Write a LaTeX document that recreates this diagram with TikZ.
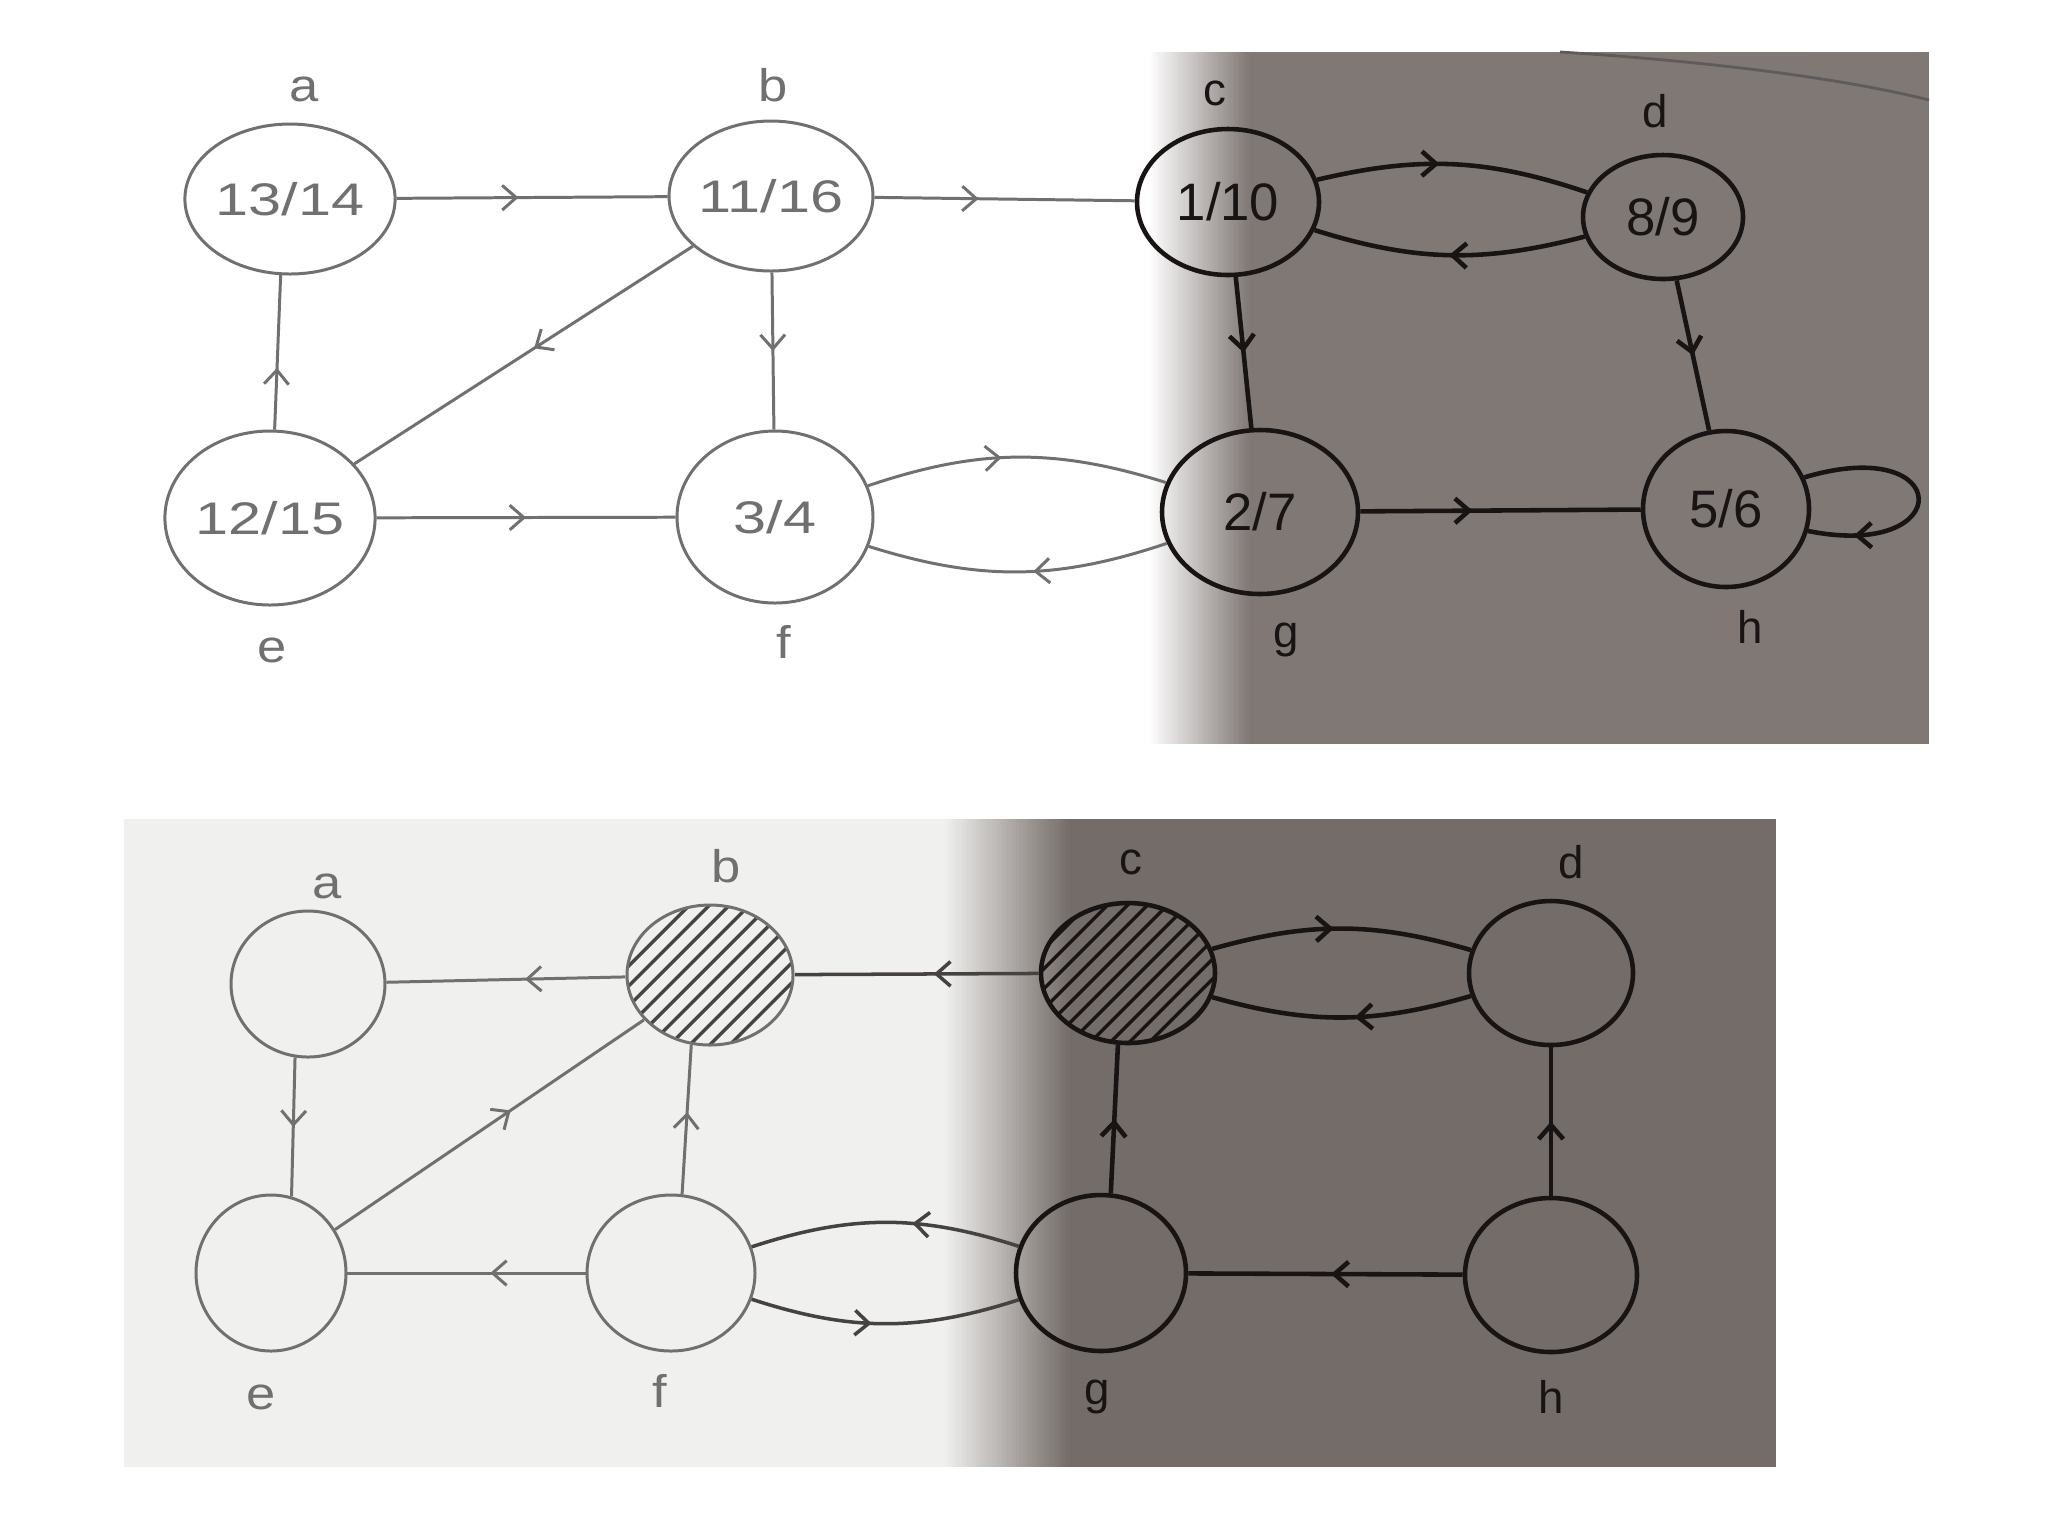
\documentclass[tikz,border=0pt]{standalone}
\usepackage{fontspec}
\setmainfont{Liberation Sans}
\usetikzlibrary{shapes.geometric,arrows.meta,decorations.markings,patterns.meta}

\definecolor{lgray}{RGB}{112,112,112}
\definecolor{mgray}{RGB}{70,66,64}
\definecolor{dgray}{RGB}{24,20,20}
\definecolor{shadeA}{RGB}{128,120,117}
\definecolor{shadeB}{RGB}{116,108,104}
\definecolor{paper}{RGB}{240,240,238}
\newcommand\wtxt[1]{\scalebox{1.3}[1]{#1}}
\newcommand\wlab[1]{\scalebox{1.15}[1]{#1}}

\begin{document}
\begin{tikzpicture}[x=0.1mm,y=0.1mm,
  gn/.style n args={2}{ellipse, minimum width=#1mm, minimum height=#2mm, inner sep=0pt},
  lt/.style={draw=lgray, text=lgray, line width=0.85pt, font=\fontsize{13}{15}\selectfont},
  dk/.style={draw=dgray, text=dgray, line width=1.3pt, font=\fontsize{15}{17}\selectfont},
  llab/.style={text=lgray, font=\fontsize{13}{15}\selectfont},
  dlab/.style={text=dgray, font=\fontsize{13}{15}\selectfont},
  midarr/.style={postaction={decorate,decoration={markings,mark=at position #1 with {\arrow{Straight Barb[length=4pt,width=7pt]}}}}},
  midarr/.default=0.5,
  ledge/.style={draw=lgray, line width=0.85pt},
  medge/.style={draw=mgray, line width=1pt},
  dedge/.style={draw=dgray, line width=1.3pt},
  hatch/.style={pattern={Lines[angle=45,distance=4pt,line width=1pt]}, pattern color=#1}
]
\useasboundingbox (0,0) rectangle (2048,-1536);

% ---------- backgrounds ----------
\fill[white] (0,0) rectangle (2048,-1536);
\fill[shadeA] (1245,-52) rectangle (1929,-744);
\foreach \i in {0,...,39} {
  \pgfmathsetmacro\p{\i*2.5+1.25}
  \fill[shadeA!\p!white] ({1149+\i*2.5},-52) rectangle ({1149+\i*2.5+3.2},-744);
}
\draw[dgray!70, line width=0.8pt] (1560,-52) .. controls (1720,-62) and (1850,-80) .. (1929,-100);

\fill[paper] (124,-819) rectangle (1776,-1467);
\fill[shadeB] (1068,-819) rectangle (1776,-1467);
\foreach \i in {0,...,39} {
  \pgfmathsetmacro\p{\i*2.5+1.25}
  \fill[shadeB!\p!paper] ({945+\i*3.1},-819) rectangle ({945+\i*3.1+3.8},-1467);
}

% ---------- top graph ----------
\node[gn={19.6}{15}, lt] (a) at (290,-199) {\wtxt{13/14}};
\node[gn={18.8}{15}, lt] (b) at (771,-196) {\wtxt{11/16}};
\node[gn={18.2}{14.6}, dk] (c) at (1228,-202) {1/10};
\node[gn={16}{12.4}, dk] (d) at (1663,-217) {8/9};
\node[gn={20.6}{17.4}, lt] (e) at (270,-518) {\wtxt{12/15}};
\node[gn={19.6}{17.2}, lt] (f) at (775,-517) {\wtxt{3/4}};
\node[gn={19.6}{16.4}, dk] (g) at (1260,-512) {2/7};
\node[gn={16.6}{15.6}, dk] (h) at (1726,-509) {5/6};

\node[llab] (la) at (304,-89) {\wlab{a}};
\node[llab] (lb) at (773,-85) {\wlab{b}};
\node[dlab] (lc) at (1215,-93) {c};
\node[dlab] (ld) at (1655,-111) {d};
\node[llab] (le) at (272,-650) {\wlab{e}};
\node[llab] (lf) at (784,-642) {\wlab{f}};
\node[dlab] (lg) at (1286,-640) {g};
\node[dlab] (lh) at (1750,-627) {h};

\draw[ledge, midarr=0.45] (a) -- (b);
\draw[ledge, midarr=0.4] (b) -- (c);
\draw[ledge, midarr=0.4] (e.87) -- (a.263);
\draw[ledge, midarr=0.47] (b) -- (e);
\draw[ledge, midarr=0.5] (b) -- (f);
\draw[ledge, midarr=0.5] (e) -- (f);
\draw[ledge, midarr=0.45] (f) to[bend left=18] (g);
\draw[ledge, midarr=0.45] (g) to[bend left=18] (f);
\draw[dedge, midarr=0.45] (c) to[bend left=16] (d);
\draw[dedge, midarr=0.5] (d) to[bend left=16] (c);
\draw[dedge, midarr=0.5] (c) -- (g);
\draw[dedge, midarr=0.5] (d) -- (h);
\draw[dedge, midarr=0.4] (g) -- (h);
\draw[dedge, midarr=0.82] (h.22) .. controls +(150,45) and +(150,-30) .. (h.-15);

% ---------- bottom graph ----------
\node[gn={15.4}{14.6}, lt] (a2) at (308,-984) {};
\node[gn={16.6}{14}, lt, hatch=dgray!80] (b2) at (710,-975) {};
\node[gn={17.4}{14}, dk, hatch=dgray] (c2) at (1128,-973) {};
\node[gn={16.4}{14.4}, dk] (d2) at (1551,-973) {};
\node[gn={15}{15.6}, lt] (e2) at (271,-1273) {};
\node[gn={16.8}{15.6}, lt] (f2) at (671,-1273) {};
\node[gn={17}{15.6}, dk] (g2) at (1101,-1273) {};
\node[gn={17.2}{15.4}, dk] (h2) at (1551,-1275) {};

\node[llab] (la2) at (327,-886) {\wlab{a}};
\node[llab] (lb2) at (726,-866) {\wlab{b}};
\node[dlab] (lc2) at (1131,-862) {c};
\node[dlab] (ld2) at (1571,-862) {d};
\node[llab] (le2) at (261,-1397) {\wlab{e}};
\node[llab] (lf2) at (660,-1391) {\wlab{f}};
\node[dlab] (lg2) at (1097,-1397) {g};
\node[dlab] (lh2) at (1551,-1397) {h};

\draw[ledge, midarr=0.42] (b2) -- (a2);
\draw[medge, midarr=0.43] (c2) -- (b2);
\draw[dedge, midarr=0.47] (c2) to[bend left=16] (d2);
\draw[dedge, midarr=0.45] (d2) to[bend left=16] (c2);
\draw[dedge, midarr=0.5] (h2) -- (d2);
\draw[dedge, midarr=0.5] (g2.83) -- (c2.262);
\draw[dedge, midarr=0.48] (h2) -- (g2);
\draw[medge, midarr=0.4] (g2) to[bend right=18] (f2);
\draw[medge, midarr=0.45] (f2) to[bend right=18] (g2);
\draw[ledge, midarr=0.55] (f2.82) -- (b2.255);
\draw[ledge, midarr=0.4] (f2) -- (e2);
\draw[ledge, midarr=0.5] (a2.260) -- (e2.75);
\draw[ledge, midarr=0.57] (e2) -- (b2);
\end{tikzpicture}
\end{document}
